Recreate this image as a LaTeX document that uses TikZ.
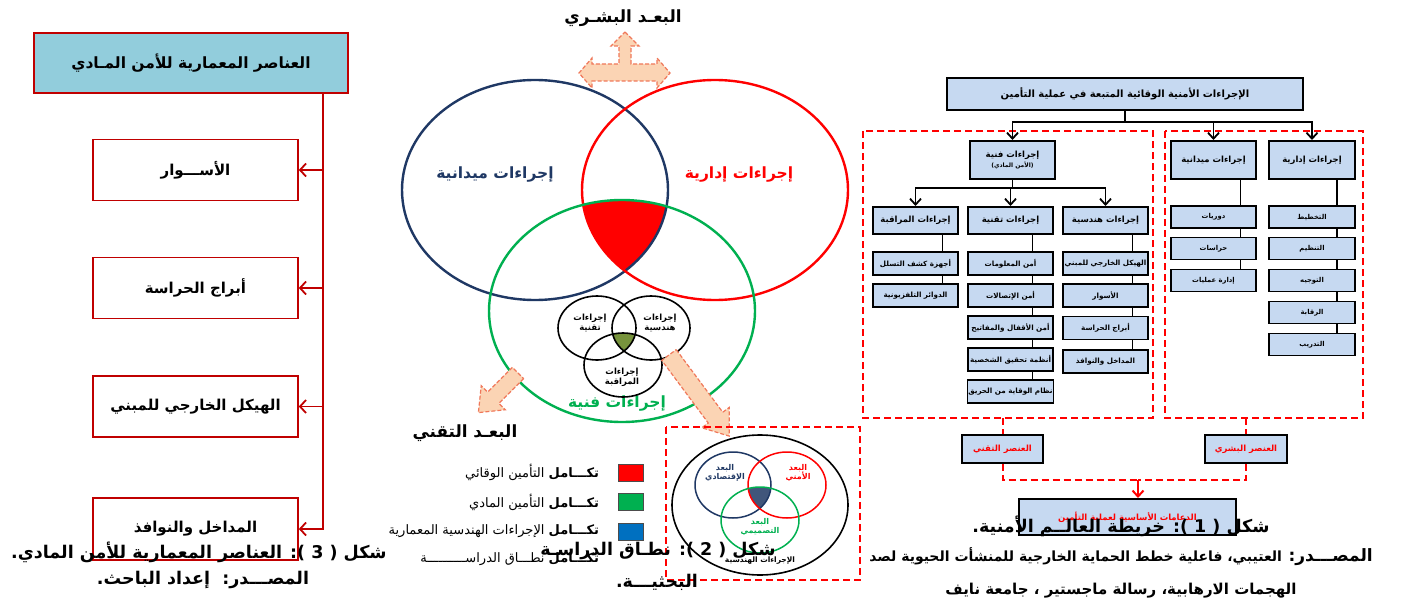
\documentclass[tikz,border=0pt]{standalone}
\usepackage{fontspec}
\usetikzlibrary{arrows.meta,calc}
\newfontfamily\ar[Script=Arabic]{DejaVu Sans}
\TeXXeTstate=1
\newcommand{\RL}[1]{\beginR#1\endR}
\newcommand{\fs}[2]{\fontsize{#1}{#2}\selectfont}
\definecolor{dred}{RGB}{192,0,0}
\definecolor{tealb}{RGB}{146,205,220}
\definecolor{navyb}{RGB}{31,56,100}
\definecolor{vred}{RGB}{255,0,0}
\definecolor{vgreen}{RGB}{0,176,80}
\definecolor{olivef}{RGB}{119,147,60}
\definecolor{peach}{RGB}{251,212,180}
\definecolor{peachline}{RGB}{240,120,90}
\definecolor{lblue}{RGB}{198,217,241}
\definecolor{legblue}{RGB}{0,112,192}
\tikzset{
  lbox/.style={draw=dred,line width=1.6pt,fill=white,minimum width=205pt,minimum height=61pt,font=\ar\bfseries\fs{15}{18}},
  redarr/.style={draw=dred,line width=1.8pt,-{Straight Barb[length=6pt,width=13pt]}},
  peacharrow/.style={draw=peachline,fill=peach,line width=1.2pt,dash pattern=on 4pt off 2pt},
  bigell/.style={line width=2.4pt},
  smell/.style={draw=black,line width=1.6pt},
  cbox/.style={draw=black,line width=2pt,fill=lblue,font=\ar\bfseries\fs{8.5}{10.5},align=center,inner sep=1pt},
  leaf/.style={draw=black,line width=1.3pt,fill=lblue,minimum width=85pt,minimum height=23pt,inner sep=0.5pt,font=\ar\bfseries\fs{7.2}{8.5}},
  rleaf/.style={leaf,minimum height=22pt,font=\ar\bfseries\fs{6.8}{8}},
  conn/.style={draw=black,line width=1.6pt},
  carr/.style={draw=black,line width=1.8pt,-{Straight Barb[length=6pt,width=11pt]}},
  rdash/.style={draw=vred,line width=2pt,dash pattern=on 7pt off 4pt},
  legsq/.style={draw=black!70,line width=1pt,minimum width=25pt,minimum height=17pt,inner sep=0pt},
  legtxt/.style={anchor=east,font=\ar\fs{13}{15}},
  capt/.style={font=\ar\bfseries\fs{17.5}{20}},
  srct/.style={font=\ar\bfseries\fs{14}{16}},
}
\begin{document}
\begin{tikzpicture}[x=1pt,y=-1pt]
\useasboundingbox (0,0) rectangle (1411,602);
\clip (0,0) rectangle (1411,602);
\fill[white] (0,0) rectangle (1411,602);

% ================= LEFT PANEL =================
\node[draw=dred,line width=1.6pt,fill=tealb,minimum width=314pt,minimum height=60pt,font=\ar\bfseries\fs{15.5}{18}] (lt) at (191,63) {\RL{العناصر المعمارية للأمن المـادي}};
\node[lbox] (l1) at (195.5,170) {\RL{الأســـوار}};
\node[lbox] (l2) at (195.5,288) {\RL{أبراج الحراسة}};
\node[lbox] (l3) at (195.5,406.5) {\RL{الهيكل الخارجي للمبني}};
\node[lbox,minimum height=62pt] (l4) at (195.5,529) {\RL{المداخل والنوافذ}};
\coordinate (trunk) at (323,93);
\draw[redarr] (trunk) |- (l4.east);
\draw[redarr] (trunk |- l1.east) -- (l1.east);
\draw[redarr] (trunk |- l2.east) -- (l2.east);
\draw[redarr] (trunk |- l3.east) -- (l3.east);

% ================= MIDDLE PANEL =================
\node[font=\ar\bfseries\fs{16.8}{19}] (hum) at (623,18) {\RL{البعـد البشـري}};
\draw[peacharrow] (625,32) -- (639,46) -- (631,46) -- (631,64) -- (657,64) -- (657,58) -- (670,73) -- (657,88) -- (657,81) -- (592,81) -- (592,88) -- (579,73) -- (592,58) -- (592,64) -- (619,64) -- (619,46) -- (611,46) -- cycle;

\begin{scope}
  \clip (535,190) ellipse [x radius=133pt,y radius=110pt];
  \clip (715,190) ellipse [x radius=133pt,y radius=110pt];
  \fill[vred] (622,311) ellipse [x radius=133pt,y radius=111pt];
\end{scope}
\draw[bigell,navyb] (535,190) ellipse [x radius=133pt,y radius=110pt];
\draw[bigell,vred] (715,190) ellipse [x radius=133pt,y radius=110pt];
\draw[bigell,vgreen] (622,311) ellipse [x radius=133pt,y radius=111pt];
\node[font=\ar\bfseries\fs{15.5}{18},text=navyb] (lblm) at (495,175) {\RL{إجراءات ميدانية}};
\node[font=\ar\bfseries\fs{15.5}{18},text=vred] (lbli) at (739,175) {\RL{إجراءات إدارية}};
\node[font=\ar\bfseries\fs{15.5}{18},text=vgreen] (lblf) at (617,403) {\RL{إجراءات فنية}};

\begin{scope}
  \clip (597,328) ellipse [x radius=39pt,y radius=32pt];
  \clip (651,328) ellipse [x radius=39pt,y radius=32pt];
  \fill[olivef] (623,365) ellipse [x radius=39pt,y radius=32pt];
\end{scope}
\draw[smell] (597,328) ellipse [x radius=39pt,y radius=32pt];
\draw[smell] (651,328) ellipse [x radius=39pt,y radius=32pt];
\draw[smell] (623,365) ellipse [x radius=39pt,y radius=32pt];
\node[font=\ar\bfseries\fs{8.5}{10},align=center] (s1) at (590,323) {\RL{إجراءات}\\\RL{تقنية}};
\node[font=\ar\bfseries\fs{8.5}{10},align=center] (s2) at (660,323) {\RL{إجراءات}\\\RL{هندسية}};
\node[font=\ar\bfseries\fs{8.5}{10},align=center] (s3) at (622,377) {\RL{إجراءات}\\\RL{المراقبة}};

\begin{scope}[shift={(518,373)},rotate=225]
  \draw[peacharrow] (0,-8) -- (35,-8) -- (35,-17) -- (56,0) -- (35,17) -- (35,8) -- (0,8) -- cycle;
\end{scope}
\begin{scope}[shift={(669,355)},rotate=-53.4]
  \draw[peacharrow] (0,-9) -- (78,-9) -- (78,-17) -- (101,0) -- (78,17) -- (78,9) -- (0,9) -- cycle;
\end{scope}
\node[font=\ar\bfseries\fs{16.8}{19}] (techdim) at (465,433) {\RL{البعـد التقني}};

\node[legsq,fill=vred] (sq1) at (630.5,472.5) {};
\node[legsq,fill=vgreen] (sq2) at (630.5,502) {};
\node[legsq,fill=legblue] (sq3) at (630.5,531.5) {};
\node[legtxt] (lg1) at ([xshift=-15pt]sq1.west) {\RL{{\bfseries تكـــامل} التأمين الوقائي}};
\node[legtxt] (lg2) at ([xshift=-15pt]sq2.west) {\RL{{\bfseries تكـــامل} التأمين المادي}};
\node[legtxt] (lg3) at ([xshift=-15pt]sq3.west) {\RL{{\bfseries تكـــامل} الإجراءات الهندسية المعمارية}};
\node[legtxt] (lg4) at ([xshift=-15pt,yshift=-28pt]sq3.west) {\RL{{\bfseries تكـــامل} نطـــاق الدراســــــــــة}};

\draw[rdash] (666,427) rectangle (860,580);
\begin{scope}
  \clip (733,485) ellipse [x radius=38pt,y radius=33pt];
  \clip (787,485) ellipse [x radius=39pt,y radius=33pt];
  \fill[navyb!85] (760,520) ellipse [x radius=39pt,y radius=33pt];
\end{scope}
\draw[black,line width=1.6pt] (760,505) ellipse [x radius=88pt,y radius=70pt];
\draw[navyb,line width=1.5pt] (733,485) ellipse [x radius=38pt,y radius=33pt];
\draw[vred,line width=1.5pt] (787,485) ellipse [x radius=39pt,y radius=33pt];
\draw[vgreen,line width=1.5pt] (760,520) ellipse [x radius=39pt,y radius=33pt];
\node[font=\ar\bfseries\fs{8}{9.5},align=center,text=navyb] (d1) at (725,473) {\RL{البعد}\\\RL{الإقتصادي}};
\node[font=\ar\bfseries\fs{8}{9.5},align=center,text=vred] (d2) at (798,473) {\RL{البعد}\\\RL{الأمني}};
\node[font=\ar\bfseries\fs{8}{9.5},align=center,text=vgreen] (d3) at (760,527) {\RL{البعد}\\\RL{التصميمي}};
\node[font=\ar\bfseries\fs{7.5}{9}] (d4) at (760,561) {\RL{الإجراءات الهندسية}};

% ================= RIGHT PANEL =================
\node[cbox,minimum width=356pt,minimum height=32pt,font=\ar\bfseries\fs{10}{12}] (rt) at (1125,94) {\RL{الإجراءات الأمنية الوقائية المتبعة في عملية التأمين}};
\draw[rdash] (863,131) rectangle (1153,418);
\draw[rdash] (1165,131) rectangle (1363,418);
\node[cbox,minimum width=85pt,minimum height=38pt] (fan) at (1012.5,160) {\RL{إجراءات فنية}\\[-1pt]{\fs{6}{7}\RL{(الأمن المادي)}}};
\node[cbox,minimum width=85pt,minimum height=38pt] (may) at (1213.5,160) {\RL{إجراءات ميدانية}};
\node[cbox,minimum width=86pt,minimum height=38pt] (ida) at (1312,160) {\RL{إجراءات إدارية}};
\coordinate (j1) at (1125,122);
\draw[conn] (rt.south) -- (j1);
\draw[carr] (j1) -| (fan.north);
\draw[carr] (j1) -| (may.north);
\draw[carr] (j1) -| (ida.north);

\node[cbox,minimum width=85pt,minimum height=27pt] (mor) at (915.5,220.5) {\RL{إجراءات المراقبة}};
\node[cbox,minimum width=85pt,minimum height=27pt] (taq) at (1010.5,220.5) {\RL{إجراءات تقنية}};
\node[cbox,minimum width=85pt,minimum height=27pt] (han) at (1105.5,220.5) {\RL{إجراءات هندسية}};
\coordinate (j2) at (1012.5,188);
\draw[conn] (fan.south) -- (j2);
\draw[carr] (j2) -| (mor.north);
\draw[carr] (j2) -| (taq.north);
\draw[carr] (j2) -| (han.north);

% monitoring leaves
\node[leaf] (m1) at (915.5,263.5) {\RL{أجهزة كشف التسلل}};
\node[leaf] (m2) at (915.5,295.5) {\RL{الدوائر التلفزيونية}};
\draw[conn] ([xshift=27pt]mor.south) -- ([xshift=27pt]m1.north);
\draw[conn] ([xshift=27pt]m1.south) -- ([xshift=27pt]m2.north);
% technical leaves
\node[leaf] (t1) at (1010.5,263.5) {\RL{أمن المعلومات}};
\node[leaf] (t2) at (1010.5,295.5) {\RL{أمن الإتصالات}};
\node[leaf] (t3) at (1010.5,327.5) {\RL{أمن الأقفال والمفاتيح}};
\node[leaf] (t4) at (1010.5,359.5) {\RL{أنظمة تحقيق الشخصية}};
\node[leaf] (t5) at (1010.5,391.5) {\RL{نظام الوقاية من الحريق}};
\draw[conn] ([xshift=22pt]taq.south) -- ([xshift=22pt]t1.north);
\draw[conn] ([xshift=22pt]t1.south) -- ([xshift=22pt]t2.north);
\draw[conn] ([xshift=22pt]t2.south) -- ([xshift=22pt]t3.north);
\draw[conn] ([xshift=22pt]t3.south) -- ([xshift=22pt]t4.north);
\draw[conn] ([xshift=22pt]t4.south) -- ([xshift=22pt]t5.north);
% engineering leaves
\node[leaf] (e1) at (1105.5,263.5) {\RL{الهيكل الخارجي للمبني}};
\node[leaf] (e2) at (1105.5,295.5) {\RL{الأسوار}};
\node[leaf] (e3) at (1105.5,328) {\RL{أبراج الحراسة}};
\node[leaf] (e4) at (1105.5,361.5) {\RL{المداخل والنوافذ}};
\draw[conn] ([xshift=27pt]han.south) -- ([xshift=27pt]e1.north);
\draw[conn] ([xshift=27pt]e1.south) -- ([xshift=27pt]e2.north);
\draw[conn] ([xshift=27pt]e2.south) -- ([xshift=27pt]e3.north);
\draw[conn] ([xshift=27pt]e3.south) -- ([xshift=27pt]e4.north);
% field leaves
\node[rleaf] (f1) at (1213.5,217) {\RL{دوريات}};
\node[rleaf] (f2) at (1213.5,248.5) {\RL{حراسات}};
\node[rleaf] (f3) at (1213.5,280.5) {\RL{إدارة عمليات}};
\draw[conn] ([xshift=27pt]may.south) -- ([xshift=27pt]f1.north);
\draw[conn] ([xshift=27pt]f1.south) -- ([xshift=27pt]f2.north);
\draw[conn] ([xshift=27pt]f2.south) -- ([xshift=27pt]f3.north);
% admin leaves
\node[rleaf,minimum width=86pt] (a1) at (1312,217) {\RL{التخطيط}};
\node[rleaf,minimum width=86pt] (a2) at (1312,248.5) {\RL{التنظيم}};
\node[rleaf,minimum width=86pt] (a3) at (1312,280.5) {\RL{التوجيه}};
\node[rleaf,minimum width=86pt] (a4) at (1312,312.5) {\RL{الرقابة}};
\node[rleaf,minimum width=86pt] (a5) at (1312,344.5) {\RL{التدريب}};
\draw[conn] ([xshift=25pt]ida.south) -- ([xshift=25pt]a1.north);
\draw[conn] ([xshift=25pt]a1.south) -- ([xshift=25pt]a2.north);
\draw[conn] ([xshift=25pt]a2.south) -- ([xshift=25pt]a3.north);
\draw[conn] ([xshift=25pt]a3.south) -- ([xshift=25pt]a4.north);
\draw[conn] ([xshift=25pt]a4.south) -- ([xshift=25pt]a5.north);

% elements
\node[cbox,minimum width=81pt,minimum height=28pt,text=vred,font=\ar\bfseries\fs{8.5}{10}] (etq) at (1002.5,449) {\RL{العنصر التقني}};
\node[cbox,minimum width=82pt,minimum height=28pt,text=vred,font=\ar\bfseries\fs{8.5}{10}] (ebs) at (1246,449) {\RL{العنصر البشري}};
\coordinate (dbl) at (1002.5,418);
\coordinate (dbr) at (1246,418);
\draw[rdash] (dbl) -- (etq.north);
\draw[rdash] (dbr) -- (ebs.north);
\coordinate (hj) at (1138,480);
\draw[rdash] (etq.south) |- (hj);
\draw[rdash] (ebs.south) |- (hj);
\node[cbox,minimum width=217pt,minimum height=36pt,text=vred,font=\ar\bfseries\fs{8.5}{10}] (pil) at (1127.5,517) {\RL{الدعامات الأساسية لعملية التأمين}};
\draw[draw=vred,line width=2pt,-{Straight Barb[length=6pt,width=11pt]}] (hj) -- (hj |- pil.north);

% ================= CAPTIONS =================
\node[capt] (cap3) at (199,552) {\RL{شكل ( 3 ): العناصر المعمارية للأمن المادي\kern0pt.}};
\node[capt] (src3) at (203,580) {\RL{المصـــدر\kern0pt:\ \ إعداد الباحث\kern0pt.}};
\node[capt] (cap2) at (658,551) {\RL{شكل ( 2 ): نطـاق الدراسـة}};
\node[capt] (cap2b) at (657,582) {\RL{البحثيـــة\kern0pt.}};
\node[capt] (cap1) at (1121,526) {\RL{شكل ( 1 ): خريطة العالــم الأمنية\kern0pt.}};
\node[srct] (src1) at (1121,557) {\RL{{\fs{17}{19}المصـــدر\kern0pt:} العتيبي\kern0pt، فاعلية خطط الحماية الخارجية للمنشأت الحيوية لصد}};
\node[srct,font=\ar\bfseries\fs{15}{17}] (src1b) at (1121,591) {\RL{الهجمات الارهابية\kern0pt، رسالة ماجستير \kern0pt، جامعة نايف}};
\end{tikzpicture}
\end{document}
